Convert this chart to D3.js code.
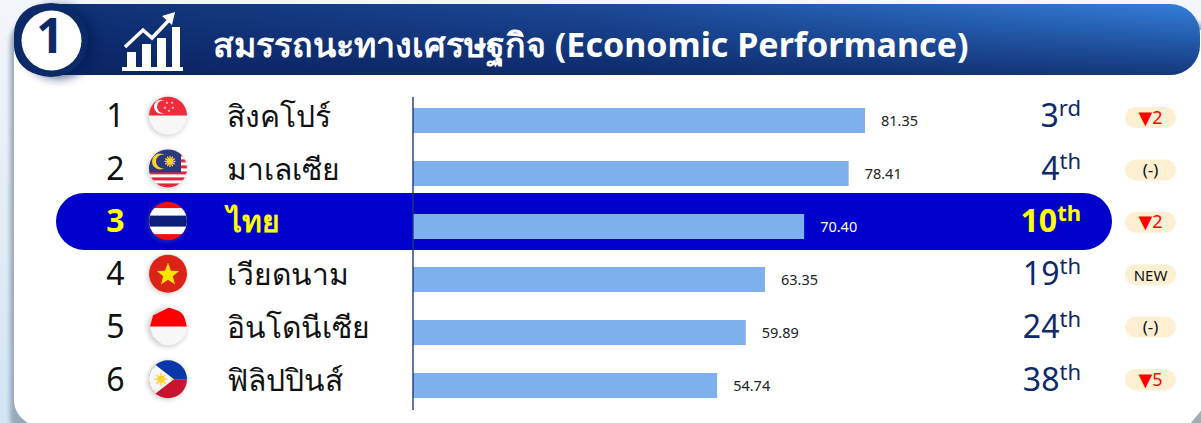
<!DOCTYPE html>
<html>
<head>
<meta charset="utf-8">
<script src="https://cdn.jsdelivr.net/npm/d3@7"></script>
<style>
html, body { margin:0; padding:0; background:#fff; overflow:hidden; }
svg { display:block; font-family:"Noto Sans","Open Sans",sans-serif; }
</style>
</head>
<body>
<div id="chart"></div>
<script>
// values
var ranks     = ["1","2","3","4","5","6"];
var countries = ["สิงคโปร์","มาเลเซีย","ไทย","เวียดนาม","อินโดนีเซีย","ฟิลิปปินส์"];
var flags     = ["sg","my","th","vn","id","ph"];
var scores    = [81.35,78.41,70.40,63.35,59.89,54.74];
var scoreText = ["81.35","78.41","70.40","63.35","59.89","54.74"];
var worldRank = ["3","4","10","19","24","38"];
var suffix    = ["rd","th","th","th","th","th"];
var changes   = ["▼2","(-)","▼2","NEW","(-)","▼5"];
var highlight = "ไทย";
var title     = "สมรรถนะทางเศรษฐกิจ (Economic Performance)";

var W = 1201, H = 423;
var svg = d3.select("#chart").append("svg").attr("width",W).attr("height",H);
var defs = svg.append("defs");

var bgGrad = defs.append("linearGradient").attr("id","bgGrad").attr("x1",0).attr("x2",0).attr("y1",0).attr("y2",1);
bgGrad.append("stop").attr("offset",0).attr("stop-color","#f3f6fa");
bgGrad.append("stop").attr("offset",1).attr("stop-color","#d3e4f4");

var headH = defs.append("linearGradient").attr("id","headH").attr("x1",0).attr("x2",1).attr("y1",0).attr("y2",0);
headH.append("stop").attr("offset",0).attr("stop-color","#0f2f74");
headH.append("stop").attr("offset",0.5).attr("stop-color","#1c4a98");
headH.append("stop").attr("offset",1).attr("stop-color","#3480dc");

var headV = defs.append("linearGradient").attr("id","headV").attr("x1",0).attr("x2",0).attr("y1",0).attr("y2",1);
headV.append("stop").attr("offset",0).attr("stop-color","#0a1f5c").attr("stop-opacity",0);
headV.append("stop").attr("offset",1).attr("stop-color","#0a1f5c").attr("stop-opacity",0.75);

var blur = defs.append("filter").attr("id","soft").attr("x","-40%").attr("y","-40%").attr("width","180%").attr("height","180%");
blur.append("feGaussianBlur").attr("stdDeviation",2);
var blur2 = defs.append("filter").attr("id","soft2").attr("x","-40%").attr("y","-40%").attr("width","180%").attr("height","180%");
blur2.append("feGaussianBlur").attr("stdDeviation",5);

defs.append("clipPath").attr("id","flagClip").append("circle").attr("r",19);

// backdrop and white card
svg.append("rect").attr("width",W).attr("height",H).attr("fill","url(#bgGrad)");
svg.append("rect").attr("x",10).attr("y",20).attr("width",1200).attr("height",420).attr("rx",22).attr("fill","#7f8fa3").attr("opacity",0.7).attr("filter","url(#soft)");
svg.append("path")
	.attr("d","M14,30H1201V411L1191,423H28Q14,414 14,400Z")
	.attr("fill","#fff");
svg.append("path").attr("d","M1191,423L1201,411V423Z").attr("fill","#a9adb2");

// header band
svg.append("rect").attr("x",14).attr("y",4).attr("width",1186).attr("height",71).attr("rx",30).attr("fill","url(#headH)");
svg.append("rect").attr("x",14).attr("y",4).attr("width",1186).attr("height",71).attr("rx",30).attr("fill","url(#headV)");

svg.append("circle").attr("cx",58).attr("cy",42).attr("r",37).attr("fill","#061a52").attr("opacity",0.6).attr("filter","url(#soft2)");
svg.append("circle").attr("cx",51).attr("cy",40).attr("r",37).attr("fill","#0c2a68");
svg.append("circle").attr("cx",51.5).attr("cy",40.5).attr("r",30).attr("fill","#fff");
svg.append("text").attr("x",50).attr("y",53).attr("text-anchor","middle")
	.attr("font-size",48).attr("font-weight",700).attr("fill","#0c2a68").text("1");

// little growth icon in the header
var icon = svg.append("g").attr("fill","#fff");
icon.append("rect").attr("x",122).attr("y",67).attr("width",61).attr("height",4);
[[127,52,9],[142,44,9],[157,38,9],[172,27,8]].forEach(function(b){
	icon.append("rect").attr("x",b[0]).attr("y",b[1]).attr("width",b[2]).attr("height",68-b[1]);
});
icon.append("path").attr("d","M125,47L143,30L152,38L171,18").attr("fill","none").attr("stroke","#fff").attr("stroke-width",3.5);
icon.append("path").attr("d","M162,16L175,12L172,25Z");

svg.append("text").attr("x",213).attr("y",57).attr("font-size",34).attr("font-weight",700)
	.attr("fill","#fff").text(title);

// scales: bars run on a slightly wider step than the labels beside them
var x = d3.scaleLinear().domain([0,100]).range([413,413+555.6]);
var y = d3.scaleBand().domain(countries).range([94,412]);
var yLabel = d3.scaleBand().domain(countries).range([89.65,405.85]);
var yBadge = d3.scaleBand().domain(countries).range([91.3,405.7]);
var barH = 25;
var rowY = function(d){ return y(d)+y.bandwidth()/2; };
var labelY = function(d){ return yLabel(d)+yLabel.bandwidth()/2; };
var badgeY = function(d){ return yBadge(d)+yBadge.bandwidth()/2; };

// highlighted row
svg.append("rect").datum(highlight)
	.attr("x",56).attr("width",1056)
	.attr("y",function(d){ return labelY(d)-28.5; }).attr("height",57).attr("rx",28.5)
	.attr("fill","#0000cd");

// bars
svg.selectAll("rect.bar").data(scores).enter().append("rect")
	.attr("class","bar")
	.attr("x",x(0))
	.attr("y",function(d,i){ return rowY(countries[i])-barH/2; })
	.attr("width",function(d){ return x(d)-x(0); })
	.attr("height",barH)
	.attr("fill","#7fb0ee");

// axis line
svg.append("line").attr("x1",x(0)).attr("x2",x(0)).attr("y1",97).attr("y2",410)
	.attr("stroke","#1c3a80").attr("stroke-width",1.4);

var rows = svg.selectAll("g.row").data(countries).enter().append("g").attr("class","row");

rows.append("text")
	.attr("x",115.5).attr("y",function(d){ return labelY(d)+11; })
	.attr("text-anchor","middle").attr("font-size",32)
	.attr("font-weight",function(d){ return d===highlight?700:400; })
	.attr("fill",function(d){ return d===highlight?"#ffff00":"#111"; })
	.text(function(d,i){ return ranks[i]; });

rows.append("text")
	.attr("x",227).attr("y",function(d){ return labelY(d)+11; })
	.attr("font-size",30)
	.attr("font-weight",function(d){ return d===highlight?700:400; })
	.attr("fill",function(d){ return d===highlight?"#ffff00":"#111"; })
	.text(function(d){ return d; });

rows.append("text")
	.attr("x",function(d,i){ return x(scores[i])+16; })
	.attr("y",function(d){ return rowY(d)+5.5; })
	.attr("font-size",14.5)
	.attr("fill",function(d){ return d===highlight?"#fff":"#222"; })
	.text(function(d,i){ return scoreText[i]; });

var rk = rows.append("text")
	.attr("x",1081).attr("y",function(d){ return labelY(d)+11; })
	.attr("text-anchor","end")
	.attr("font-weight",function(d){ return d===highlight?700:400; })
	.attr("fill",function(d){ return d===highlight?"#ffff00":"#0c2a68"; });
rk.append("tspan").attr("font-size",32).text(function(d,i){ return worldRank[i]; });
rk.append("tspan").attr("font-size",22).attr("dy",-11).text(function(d,i){ return suffix[i]; });

rows.append("rect")
	.attr("x",1125).attr("width",51)
	.attr("y",function(d){ return badgeY(d)-10.5; }).attr("height",21).attr("rx",10.5)
	.attr("fill","#fdf0d2");

var ch = rows.append("text")
	.attr("x",1150.5).attr("y",function(d){ return badgeY(d)+6; })
	.attr("text-anchor","middle");
ch.each(function(d,i){
	var c = changes[i], t = d3.select(this);
	if (c.charAt(0)==="▼") {
		t.attr("font-size",18).attr("fill","#f00");
		t.append("tspan").attr("font-family","DejaVu Sans").text(c.charAt(0));
		t.append("tspan").text(c.slice(1));
	} else {
		t.attr("font-size",c==="NEW"?15:17).attr("fill","#111").text(c);
	}
});

// flags
var flagG = rows.append("g").attr("transform",function(d){ return "translate(168,"+(labelY(d)-0.3)+")"; });
flagG.append("circle").attr("cx",-1).attr("cy",1).attr("r",20).attr("fill","#777").attr("opacity",0.3).attr("filter","url(#soft)");
var flag = flagG.append("g").attr("clip-path","url(#flagClip)");
flag.each(function(d,i){ drawFlag(d3.select(this),flags[i]); });

function band(g,y0,h,col){ g.append("rect").attr("x",-20).attr("y",y0).attr("width",40).attr("height",h).attr("fill",col); }
function star(g,cx,cy,r,col,inner){
	var pts = d3.range(10).map(function(k){
		var a = -Math.PI/2+k*Math.PI/5, q = k%2?r*(inner||0.42):r;
		return [cx+q*Math.cos(a),cy+q*Math.sin(a)].join(",");
	});
	g.append("polygon").attr("points",pts.join(" ")).attr("fill",col);
}
function sun(g,cx,cy,r,n,col){
	d3.range(n).forEach(function(k){
		var a = k*2*Math.PI/n;
		g.append("line").attr("x1",cx).attr("y1",cy)
			.attr("x2",cx+r*Math.cos(a)).attr("y2",cy+r*Math.sin(a))
			.attr("stroke",col).attr("stroke-width",1.3);
	});
	g.append("circle").attr("cx",cx).attr("cy",cy).attr("r",r*0.55).attr("fill",col);
}
function drawFlag(g,code){
	if (code==="sg") {
		band(g,-20,20,"#ef2b3c"); band(g,0,20,"#f7f7f7");
		g.append("circle").attr("cx",-7).attr("cy",-9).attr("r",7).attr("fill","#fff");
		g.append("circle").attr("cx",-4.5).attr("cy",-9).attr("r",6.5).attr("fill","#ef2b3c");
		[[-1,-13],[4,-13],[-3,-8],[5,-8],[1,-5]].forEach(function(p){ star(g,p[0],p[1],1.5,"#fff"); });
	}
	if (code==="my") {
		band(g,-20,40,"#fff");
		d3.range(6).forEach(function(k){ band(g,-15+k*6,3,"#e0263c"); });
		band(g,16,4,"#e0263c");
		g.append("rect").attr("x",-20).attr("y",-20).attr("width",33).attr("height",24).attr("fill","#2b3a80");
		band(g,4,0,"#fff");
		g.append("circle").attr("cx",-8).attr("cy",-7).attr("r",8).attr("fill","#fdd32a");
		g.append("circle").attr("cx",-5).attr("cy",-7).attr("r",7).attr("fill","#2b3a80");
		sun(g,2,-7,5.5,12,"#fdd32a");
	}
	if (code==="th") {
		band(g,-20,40,"#f01010"); band(g,-13,26,"#fff"); band(g,-5.5,11,"#0c1f78");
	}
	if (code==="vn") {
		band(g,-20,40,"#dc2318");
		star(g,0,1,12,"#ffe300");
	}
	if (code==="id") {
		// this one is a rough polygon in the original, not a clean circle
		g.append("polygon").attr("points","1,-19 15,-14 19,-1 17,12 5,19 -5,19 -15,10 -18,0 -15,-11").attr("fill","#f7f7f7");
		g.append("polygon").attr("points","1,-19 15,-14 19,0 -18,0 -15,-11").attr("fill","#f00");
	}
	if (code==="ph") {
		band(g,-20,20,"#0a38a8"); band(g,0,20,"#c8142e");
		g.append("polygon").attr("points","-24,-20 -20,-20 6,0 -20,20 -24,20").attr("fill","#f7f7f7");
		sun(g,-7,0,6.5,8,"#ffd030");
		star(g,-14,-12,1.5,"#ffd030");
		star(g,-14,12,1.5,"#ffd030");
		star(g,4,0,1.5,"#ffd030");
	}
}
</script>
</body>
</html>
